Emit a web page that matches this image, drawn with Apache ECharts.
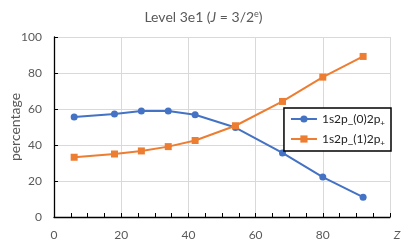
<!DOCTYPE html>
<html><head><meta charset="utf-8">
<script src="https://cdn.jsdelivr.net/npm/echarts@6/dist/echarts.min.js"></script>
<style>html,body{margin:0;padding:0;background:#fff}#c{width:407px;height:244px}</style>
</head><body><div id="c"></div>
<script>
const zValues = [6, 18, 26, 34, 42, 54, 68, 80, 92];
const series0 = [55.5, 57.2, 58.9, 58.9, 56.8, 49.7, 35.6, 22.2, 11.0];
const series1 = [33.2, 35.0, 36.7, 39.1, 42.5, 50.7, 64.2, 77.7, 89.2];
const seriesNames = ['1s2p_(0)2p{s|+}', '1s2p_(1)2p{s|+}'];
const xTicks = [0, 20, 40, 60, 80];
const xAxisTitle = 'Z';

const font = 'Lato, "Liberation Sans", sans-serif';
const grey = '#595959';
const chart = echarts.init(document.getElementById('c'), null, {renderer: 'canvas'});
chart.setOption({
  animation: false,
  textStyle: {fontFamily: font},
  title: {
    text: '{a|Level 3e1 (}{i|J}{a| = 3/2}{u|e}{a|)}',
    left: 'center', top: 5,
    textStyle: {
      fontWeight: 'normal',
      rich: {
        a: {fontSize: 14, color: grey, fontWeight: 'normal', fontFamily: font},
        i: {fontSize: 14, color: grey, fontWeight: 'normal', fontStyle: 'italic', fontFamily: font},
        u: {fontSize: 9, color: grey, fontWeight: 'normal', verticalAlign: 'bottom', padding: [0, 0, 6, 0], fontFamily: font}
      }
    }
  },
  grid: {left: 54, right: 17, top: 37, bottom: 27, containLabel: false, outerBoundsMode: 'none'},
  legend: {
    orient: 'vertical', right: 16, top: 108,
    itemWidth: 26, itemHeight: 9, itemGap: 5,
    padding: [4, 6, 4, 6],
    borderColor: '#000', borderWidth: 1.5, backgroundColor: '#fff',
    textStyle: {
      fontSize: 12, color: '#222', fontFamily: font, lineHeight: 14,
      rich: {s: {fontSize: 8, color: '#222', verticalAlign: 'top', padding: [7, 0, 0, 0], fontFamily: font}}
    }
  },
  xAxis: [{
    type: 'value', min: 0, max: 100, interval: 20,
    axisLine: {show: true, lineStyle: {color: '#000', width: 1.3}},
    axisTick: {show: false},
    axisLabel: {
      color: grey, fontSize: 12, margin: 12,
      formatter: v => xTicks.includes(v) ? String(v) : (v === 100 ? '{z|' + xAxisTitle + '}' : ''),
      rich: {z: {fontStyle: 'italic', fontSize: 12, color: grey, padding: [0, 0, 0, 14], fontFamily: font}}
    },
    splitLine: {show: true, lineStyle: {color: '#d9d9d9', width: 1}}
  }, {
    type: 'value', min: 0, max: 100, interval: 5, position: 'bottom',
    axisLine: {show: false},
    axisTick: {show: true, inside: true, length: 4, lineStyle: {color: '#000'}},
    axisLabel: {show: false},
    splitLine: {show: false}
  }],
  yAxis: {
    type: 'value', min: 0, max: 100, interval: 20,
    name: 'percentage', nameLocation: 'middle', nameGap: 32, nameMoveOverlap: false,
    nameTextStyle: {fontSize: 14, color: grey},
    axisLine: {show: true, lineStyle: {color: '#000', width: 1.3}},
    axisTick: {show: true, inside: true, length: 4, lineStyle: {color: '#000'}},
    axisLabel: {color: grey, fontSize: 12, margin: 12},
    splitLine: {show: true, lineStyle: {color: '#d9d9d9', width: 1}}
  },
  series: [
    {name: seriesNames[0], type: 'line', data: zValues.map((z, i) => [z, series0[i]]),
     symbol: 'circle', symbolSize: 7, color: '#4472C4', lineStyle: {width: 2}},
    {name: seriesNames[1], type: 'line', data: zValues.map((z, i) => [z, series1[i]]),
     symbol: 'rect', symbolSize: 7, color: '#ED7D31', lineStyle: {width: 2}}
  ]
});
</script></body></html>
